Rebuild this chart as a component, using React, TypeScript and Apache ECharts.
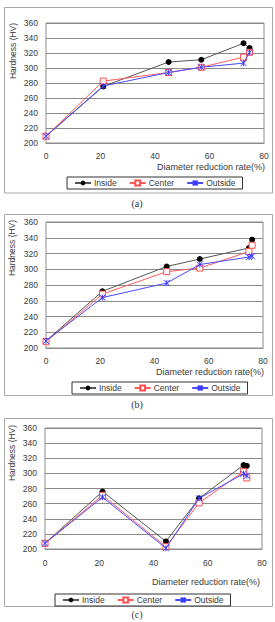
import React, { useEffect, useRef } from "react";
import * as echarts from "echarts";

// ---- data ----
const seriesNames = ["Inside", "Center", "Outside"];

const reductionA = [0, 21, 45, 57, 72.5, 74.7];
const insideA = [209, 275.5, 308, 311, 333, 326.5];
const centerA = [209, 282.5, 294, 301, 314.5, 321];
const outsideA = [209, 276, 294, 301, 306.5, 321];

const reductionB = [0, 20.8, 44.5, 56.7, 74.8, 76];
const insideB = [209, 272, 303.5, 313, 327, 337.5];
const centerB = [208, 268.5, 297, 301.5, 322.5, 330.5];
const outsideB = [209, 264, 282.5, 306, 315.5, 316.5];

const reductionC = [0, 21.2, 44.6, 56.8, 73.2, 74.4];
const insideC = [207.5, 276, 210, 267, 311, 310];
const centerC = [207.5, 271, 203, 261, 302.5, 294];
const outsideC = [207.5, 268.5, 201, 267, 299.5, 297];

const xMin = 0;
const xMax = 80;
const xStep = 20;
const yMin = 200;
const yMax = 360;
const yStep = 20;

const xAxisTitle = "Diameter reduction rate(%)";
const yAxisTitle = "Hardness (HV)";
const captions = ["(a)", "(b)", "(c)"];

// ---- layout / style ----
const FONT = "Liberation Sans, Arial, sans-serif";
const TXT = "#3a3a3a";
const colors = ["#000000", "#ff4d4d", "#3a3aff"];
const lineColors = ["#555555", "#ff5a5a", "#4a4aff"];
const asterisk = "path://M0,0L10,10M10,0L0,10M5,0L5,10";

const panels = [
  {
    xs: reductionA, ys: [insideA, centerA, outsideA],
    grid: { left: 46, top: 23, width: 218, height: 120 },
    box: { x: 4.5, y: 7.5, w: 268, h: 185.5 },
    legend: { left: 67, top: 177 },
    xName: { x: 265, y: 167 },
    yName: { x: 13, y: 51 },
    caption: { x: 137, y: 203 },
    labelMargin: 8,
  },
  {
    xs: reductionB, ys: [insideB, centerB, outsideB],
    grid: { left: 46, top: 222, width: 217, height: 126 },
    box: { x: 4.5, y: 214.5, w: 268, h: 181 },
    legend: { left: 72, top: 382 },
    xName: { x: 264, y: 372 },
    yName: { x: 12, y: 248 },
    caption: { x: 137, y: 404 },
    labelMargin: 8,
  },
  {
    xs: reductionC, ys: [insideC, centerC, outsideC],
    grid: { left: 45, top: 428, width: 217, height: 121 },
    box: { x: 4.5, y: 418.5, w: 268, h: 188 },
    legend: { left: 55, top: 594 },
    xName: { x: 260, y: 582 },
    yName: { x: 12, y: 453 },
    caption: { x: 137, y: 614 },
    labelMargin: 9,
  },
];

export default function App() {
  const ref = useRef<HTMLDivElement>(null);

  useEffect(() => {
    if (!ref.current) return;
    const chart = echarts.init(ref.current, undefined, { renderer: "svg" });

    const grids: any[] = [];
    const xAxes: any[] = [];
    const yAxes: any[] = [];
    const series: any[] = [];
    const legends: any[] = [];
    const graphics: any[] = [];

    panels.forEach((p, i) => {
      grids.push({
        ...p.grid,
        show: true,
        borderColor: "#8c8c8c",
        borderWidth: 1,
        backgroundColor: "transparent",
      });
      xAxes.push({
        gridIndex: i,
        type: "value",
        min: xMin,
        max: xMax,
        interval: xStep,
        axisLine: { show: true, lineStyle: { color: "#8c8c8c", width: 1 } },
        axisTick: { show: false },
        splitLine: { show: false },
        axisLabel: { fontSize: 8.5, color: TXT, fontFamily: FONT, margin: p.labelMargin },
      });
      yAxes.push({
        gridIndex: i,
        type: "value",
        min: yMin,
        max: yMax,
        interval: yStep,
        axisLine: { show: false },
        axisTick: { show: false },
        splitLine: { show: true, lineStyle: { color: "#8a8a8a", width: 1 } },
        axisLabel: { fontSize: 8.5, color: TXT, fontFamily: FONT, margin: 8 },
      });
      seriesNames.forEach((name, k) => {
        const base: any = {
          name,
          type: "line",
          xAxisIndex: i,
          yAxisIndex: i,
          data: p.xs.map((x, j) => [x, p.ys[k][j]]),
          lineStyle: { color: lineColors[k], width: 1 },
          z: 2 + k,
        };
        if (k === 0) {
          base.symbol = "circle";
          base.symbolSize = 6;
          base.itemStyle = { color: colors[0], borderWidth: 0 };
        } else if (k === 1) {
          base.symbol = "rect";
          base.symbolSize = 6;
          base.itemStyle = { color: "#ffffff", borderColor: colors[1], borderWidth: 1 };
        } else {
          base.symbol = asterisk;
          base.symbolSize = 6;
          base.itemStyle = { color: colors[2], borderColor: colors[2], borderWidth: 1 };
        }
        series.push(base);
      });
      legends.push({
        data: seriesNames,
        left: p.legend.left,
        top: p.legend.top,
        orient: "horizontal",
        padding: [1, 7, 1, 7],
        itemGap: 12,
        itemWidth: 16,
        itemHeight: 6,
        borderColor: "#333333",
        borderWidth: 1,
        backgroundColor: "#ffffff",
        selectedMode: false,
        textStyle: { fontSize: 8.5, color: TXT, fontFamily: FONT, padding: [0, 0, 0, -2], lineHeight: 10 },
      });
      graphics.push({
        type: "rect",
        shape: { x: p.box.x, y: p.box.y, width: p.box.w, height: p.box.h },
        style: { fill: "none", stroke: "#a8a8a8", lineWidth: 1 },
        z: -10,
      });
      graphics.push({
        type: "text",
        x: p.xName.x,
        y: p.xName.y,
        style: {
          text: xAxisTitle,
          fontSize: 9,
          fontFamily: FONT,
          fill: TXT,
          textAlign: "right",
          textVerticalAlign: "middle",
        },
      });
      graphics.push({
        type: "text",
        x: p.yName.x,
        y: p.yName.y,
        rotation: Math.PI / 2,
        style: {
          text: yAxisTitle,
          fontSize: 8.5,
          fontFamily: FONT,
          fill: TXT,
          textAlign: "center",
          textVerticalAlign: "middle",
        },
      });
      graphics.push({
        type: "text",
        x: p.caption.x,
        y: p.caption.y,
        style: {
          text: captions[i],
          fontSize: 10,
          fontFamily: "Liberation Serif, Times New Roman, serif",
          fill: "#333",
          textAlign: "center",
          textVerticalAlign: "middle",
        },
      });
    });

    chart.setOption({
      animation: false,
      backgroundColor: "#ffffff",
      grid: grids,
      xAxis: xAxes,
      yAxis: yAxes,
      series,
      legend: legends,
      graphic: graphics,
    });

    return () => chart.dispose();
  }, []);

  return (
    <div
      ref={ref}
      style={{ position: "absolute", left: 0, top: 0, width: 275, height: 622 }}
    />
  );
}
